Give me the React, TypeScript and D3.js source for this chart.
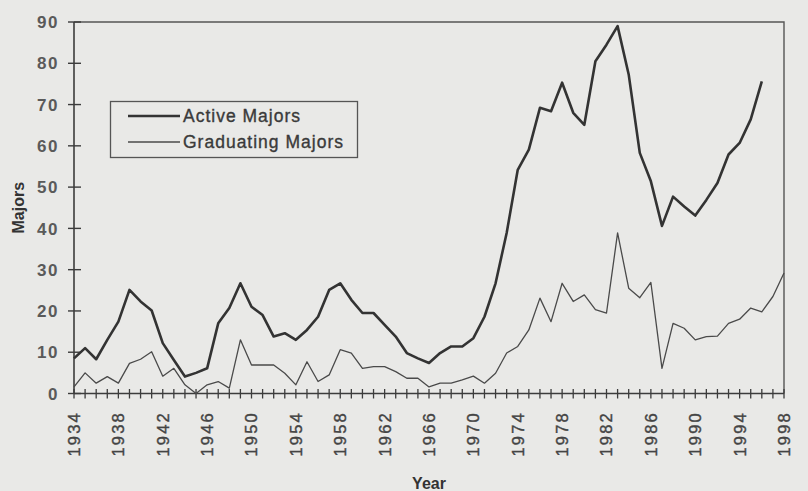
import React from "react";
import * as d3 from "d3";

// years 1934..1998
const years: number[] = d3.range(1934, 1999);

// active majors, 1934-1996
const activeMajors: number[] = [
  8.5, 11, 8.3, 13, 17.4, 25.1, 22.3, 20.1, 12.2, 8.1,
  4.1, 5, 6.1, 17, 20.7, 26.7, 21, 19, 13.8, 14.6,
  13, 15.4, 18.6, 25.1, 26.7, 22.7, 19.5, 19.5, 16.6, 13.8,
  9.8, 8.5, 7.4, 9.8, 11.4, 11.4, 13.4, 18.6, 26.7, 38.9,
  54.2, 59.1, 69.2, 68.4, 75.3, 68, 65.1, 80.5, 84.5, 89,
  77.3, 58.3, 51.4, 40.6, 47.7, 45.3, 43.1, 46.9, 51, 57.9,
  60.7, 66.4, 75.6,
];

// graduating majors, 1934-1998
const graduatingMajors: number[] = [
  1.6, 5, 2.5, 4.1, 2.5, 7.3, 8.3, 10.1, 4.2, 6.1,
  2.1, 0, 2.1, 2.9, 1.3, 13, 6.9, 6.9, 6.9, 4.9,
  2.1, 7.7, 2.9, 4.5, 10.6, 9.8, 6.1, 6.5, 6.5, 5.3,
  3.7, 3.7, 1.6, 2.5, 2.5, 3.3, 4.2, 2.5, 4.9, 9.8,
  11.4, 15.4, 23.1, 17.4, 26.7, 22.3, 23.9, 20.3, 19.5, 38.9,
  25.5, 23.2, 26.9, 6.1, 17, 15.8, 13, 13.8, 13.9, 17,
  18, 20.7, 19.8, 23.5, 29.2,
];

const yTicks: number[] = [0, 10, 20, 30, 40, 50, 60, 70, 80, 90];
const xLabelYears: number[] = d3.range(1934, 1999, 4);
const legendLabels: string[] = ["Active Majors", "Graduating Majors"];

const W = 808;
const H = 491;
const left = 74, right = 784, top = 22, bottom = 393.5;
const ink = "#3c3c3c";
const font = "'Liberation Sans', Arial, sans-serif";

export default function App() {
  const x = d3.scaleLinear().domain([1934, 1998]).range([left, right]);
  const y = d3.scaleLinear().domain([0, 90]).range([bottom, top]);

  const line = d3
    .line<number>()
    .x((_d, i) => x(years[i]))
    .y((d) => y(d));

  return (
    <svg
      width={W}
      height={H}
      style={{ position: "absolute", left: 0, top: 0, display: "block" }}
    >
      <rect x={0} y={0} width={W} height={H} fill="#e9e9e7" />

      {/* frame */}
      <path
        d={`M${left},${top}H${right}V${bottom}`}
        fill="none"
        stroke="#555"
        strokeWidth={1.4}
      />
      <line x1={left} x2={left} y1={top} y2={bottom} stroke={ink} strokeWidth={1.6} />
      <line x1={left} x2={right} y1={bottom} y2={bottom} stroke={ink} strokeWidth={1.6} />

      {/* y axis ticks + labels */}
      {yTicks.map((t) => (
        <g key={t}>
          <line x1={left - 6} x2={left + 7} y1={y(t)} y2={y(t)} stroke={ink} strokeWidth={1.4} />
          <text
            x={59}
            y={y(t)}
            dy="0.36em"
            textAnchor="end"
            fontFamily={font}
            fontSize={17}
            fontWeight="bold"
            letterSpacing={1.5}
            fill="#5a5a5a"
          >
            {t}
          </text>
        </g>
      ))}

      {/* x axis: a tick every year */}
      {years.map((yr) => (
        <line
          key={yr}
          x1={x(yr)}
          x2={x(yr)}
          y1={bottom - 4.5}
          y2={bottom + 5}
          stroke={ink}
          strokeWidth={1.3}
        />
      ))}
      {xLabelYears.map((yr) => (
        <text
          key={yr}
          transform={`translate(${x(yr)},411) rotate(-90)`}
          dy="0.36em"
          textAnchor="end"
          fontFamily={font}
          fontSize={16.5}
          letterSpacing={2.2}
          stroke="#444"
          strokeWidth={0.4}
          fill="#444"
        >
          {yr}
        </text>
      ))}

      {/* axis titles */}
      <text
        transform={`translate(18,${(top + bottom) / 2}) rotate(-90)`}
        dy="0.36em"
        textAnchor="middle"
        fontFamily={font}
        fontSize={16}
        fontWeight="bold"
        fill="#333"
      >
        Majors
      </text>
      <text
        x={(left + right) / 2}
        y={489}
        textAnchor="middle"
        fontFamily={font}
        fontSize={16}
        fontWeight="bold"
        fill="#333"
      >
        Year
      </text>

      {/* series */}
      <path
        d={line(graduatingMajors) ?? ""}
        fill="none"
        stroke="#4a4a4a"
        strokeWidth={1.3}
        strokeLinejoin="round"
      />
      <path
        d={line(activeMajors) ?? ""}
        fill="none"
        stroke="#333"
        strokeWidth={2.6}
        strokeLinejoin="round"
      />

      {/* legend */}
      <rect x={110.5} y={101.5} width={247} height={56} fill="none" stroke="#555" strokeWidth={1.3} />
      {legendLabels.map((lab, i) => {
        const ly = i === 0 ? 116 : 142;
        return (
          <g key={lab}>
            <line
              x1={128}
              x2={180}
              y1={ly}
              y2={ly}
              stroke={i === 0 ? "#333" : "#4a4a4a"}
              strokeWidth={i === 0 ? 2.6 : 1.3}
            />
            <text
              x={183}
              y={ly}
              dy="0.36em"
              fontFamily={font}
              fontSize={17.5}
              letterSpacing={1}
              stroke="#3a3a3a"
              strokeWidth={0.35}
              fill="#3a3a3a"
            >
              {lab}
            </text>
          </g>
        );
      })}
    </svg>
  );
}
